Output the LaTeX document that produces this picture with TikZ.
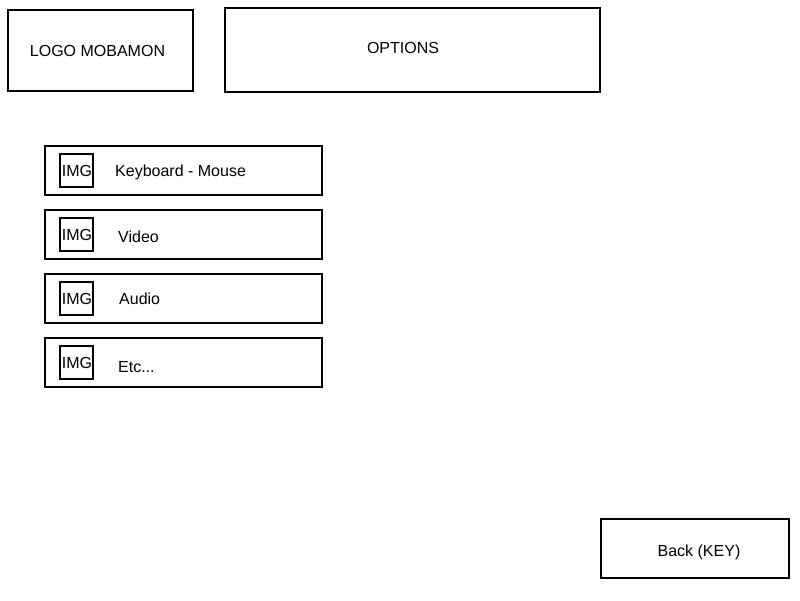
\documentclass[tikz,border=0pt]{standalone}
\usepackage{fontspec}
\setmainfont{Liberation Sans}
\begin{document}
\begin{tikzpicture}[x=1pt,y=-1pt,
  frame/.style={draw=black,line width=2pt,fill=white},
  lbl/.style={font=\fontsize{16pt}{19pt}\selectfont,inner sep=0pt,anchor=base west},
  ctr/.style={font=\fontsize{16pt}{19pt}\selectfont,inner sep=0pt,anchor=base}]
\useasboundingbox (0,0) rectangle (800,600);
\fill[white] (0,0) rectangle (800,600);
% header
\draw[frame] (8,10) rectangle (193,91);
\node[ctr] (logo) at (97.5,56.5) {LOGO MOBAMON};
\draw[frame] (225,8) rectangle (600,92);
\node[ctr] (opt) at (403,53) {OPTIONS};
% menu rows
\newcommand\menurow[5]{%
  \draw[frame] (45,#1) rectangle (322,#1+49);
  \draw[frame] (60,#1+8) rectangle (93,#1+41);
  \node[ctr] (img#5) at (77,#1+30) {IMG};
  \node[lbl] (lab#5) at (#4,#3) {#2};
}
\menurow{146}{Keyboard - Mouse}{176}{115}{1}
\menurow{210}{Video}{242}{118}{2}
\menurow{274}{Audio}{304}{119}{3}
\menurow{338}{Etc...}{372}{118}{4}
% back
\draw[frame] (601,519) rectangle (789,578);
\node[ctr] (back) at (699,556) {Back (KEY)};
\end{tikzpicture}
\end{document}
